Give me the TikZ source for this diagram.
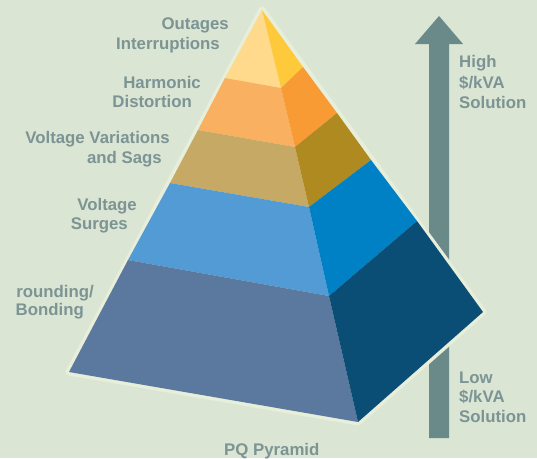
\documentclass[tikz,border=0pt]{standalone}
\usepackage{fontspec}
\setmainfont{Liberation Sans}
\definecolor{bg}{HTML}{DAE5D4}
\definecolor{halo}{HTML}{E7EEDA}
\definecolor{txt}{HTML}{7C9494}
\definecolor{arr}{HTML}{6A8A89}
\definecolor{lA}{HTML}{FFDA8C}\definecolor{rA}{HTML}{FFC93C}
\definecolor{lB}{HTML}{F9B060}\definecolor{rB}{HTML}{F89B34}
\definecolor{lC}{HTML}{C7A966}\definecolor{rC}{HTML}{AE8A20}
\definecolor{lD}{HTML}{529BD4}\definecolor{rD}{HTML}{0080C5}
\definecolor{lE}{HTML}{5B799E}\definecolor{rE}{HTML}{0B4E75}
\tikzset{
  lbl/.style={inner sep=0pt, text=txt, font=\fontsize{16.8}{20}\selectfont\bfseries},
  lr/.style={lbl, anchor=base east},
  ll/.style={lbl, anchor=base west},
}
\begin{document}
\begin{tikzpicture}[x=1pt,y=-1pt]
\useasboundingbox (0,0) rectangle (537,458);
\fill[bg] (0,0) rectangle (537,458);
% arrow
\fill[arr] (429,438) -- (429,44) -- (415,44) -- (439,16) -- (463,44) -- (449,44) -- (449,438) -- cycle;
% pyramid points
\coordinate (A) at (262,10);
\coordinate (L) at (69,372);
\coordinate (F) at (358,422);
\coordinate (R) at (483,312);
\coordinate (l1) at (225,78);  \coordinate (f1) at (281,88);  \coordinate (r1) at (303,67);
\coordinate (l2) at (198,130); \coordinate (f2) at (295,147); \coordinate (r2) at (337,113);
\coordinate (l3) at (170,183); \coordinate (f3) at (309,207); \coordinate (r3) at (371,160);
\coordinate (l4) at (128,260); \coordinate (f4) at (329,296); \coordinate (r4) at (417,221);
% halo
\draw[halo, line width=7pt, line join=round, fill=halo] (A) -- (L) -- (F) -- (R) -- cycle;
% left face
\fill[lA] (A) -- (l1) -- (f1) -- cycle;
\fill[lB] (l1) -- (l2) -- (f2) -- (f1) -- cycle;
\fill[lC] (l2) -- (l3) -- (f3) -- (f2) -- cycle;
\fill[lD] (l3) -- (l4) -- (f4) -- (f3) -- cycle;
\fill[lE] (l4) -- (L) -- (F) -- (f4) -- cycle;
% right face
\fill[rA] (A) -- (f1) -- (r1) -- cycle;
\fill[rB] (f1) -- (f2) -- (r2) -- (r1) -- cycle;
\fill[rC] (f2) -- (f3) -- (r3) -- (r2) -- cycle;
\fill[rD] (f3) -- (f4) -- (r4) -- (r3) -- cycle;
\fill[rE] (f4) -- (F) -- (R) -- (r4) -- cycle;
% labels
\node[lr] (t1a) at (229,29) {Outages};
\node[lr] (t1b) at (220,49) {Interruptions};
\node[lr] (t2a) at (201,88) {Harmonic};
\node[lr] (t2b) at (192,107) {Distortion};
\node[lr] (t3a) at (170,143.5) {Voltage Variations};
\node[lr] (t3b) at (162,163) {and Sags};
\node[lr] (t4a) at (137,210) {Voltage};
\node[lr] (t4b) at (128,229) {Surges};
\node[lr] (t5a) at (94,297) {rounding/};
\node[lr] (t5b) at (84,315) {Bonding};
\node[ll] (pq) at (224,455) {PQ Pyramid};
\node[ll] (h1) at (459,67) {High};
\node[ll] (h2) at (459,88) {\$/kVA};
\node[ll] (h3) at (459,108) {Solution};
\node[ll] (w1) at (459,383) {Low};
\node[ll] (w2) at (459,402) {\$/kVA};
\node[ll] (w3) at (459,422) {Solution};
\end{tikzpicture}
\end{document}
